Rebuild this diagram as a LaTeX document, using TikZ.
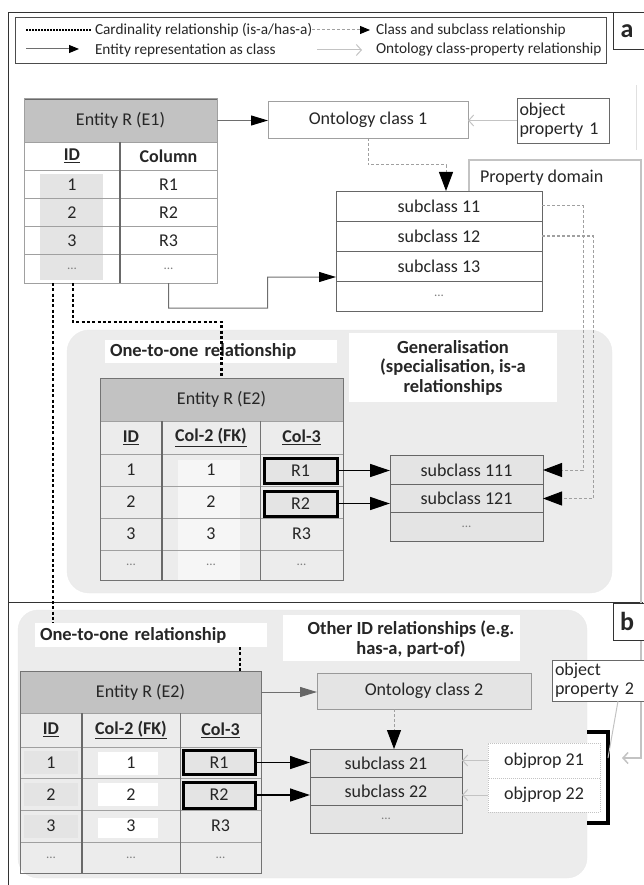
\documentclass[tikz,border=0pt]{standalone}
\usepackage{fontspec}
\setmainfont{Carlito}
\usetikzlibrary{arrows.meta}
\definecolor{hdr}{RGB}{194,194,194}
\definecolor{region}{RGB}{236,236,236}
\definecolor{cellg}{RGB}{228,228,228}
\definecolor{bord}{RGB}{160,160,160}
\definecolor{dbord}{RGB}{105,105,105}
\definecolor{lightln}{RGB}{195,195,195}
\definecolor{midln}{RGB}{110,110,110}
\definecolor{dashln}{RGB}{160,160,160}
\newcommand{\mydots}{{\color{black!50}\fontsize{13}{13}\selectfont...}}
\begin{document}
\begin{tikzpicture}[x=1pt,y=-1pt,
  every node/.style={font=\fontsize{18}{19}\selectfont, inner sep=0pt, outer sep=0pt, text=black!85},
  cell/.style n args={2}{draw=bord, line width=0.8pt, minimum width=#1, minimum height=#2},
  hdrcell/.style n args={2}{draw=dbord, line width=0.8pt, fill=hdr, minimum width=#1, minimum height=#2},
  subc/.style n args={2}{draw=black!60, line width=0.9pt, minimum width=#1, minimum height=#2},
  lbl/.style={fill=white, font=\fontsize{18.5}{19.5}\selectfont\bfseries},
  legfont/.style={font=\fontsize{15.3}{16}\selectfont},
  card/.style={line width=2.3pt, dash pattern=on 3pt off 2.3pt, black},
  subrel/.style={dashln, line width=1pt, dash pattern=on 3pt off 2pt, -{Triangle[length=19pt,width=14pt,color=black,fill=black]}},
  entrel/.style={midln, line width=1pt, -{Triangle[length=17pt,width=10pt,color=black]}},
  proprel/.style={lightln, line width=1pt, -{Straight Barb[length=5pt,width=11pt]}},
  strong/.style={black, line width=1.3pt, -{Triangle[length=20pt,width=13pt]}},
  thickbox/.style n args={2}{draw=black, line width=3pt, fill=cellg, minimum width=#1, minimum height=#2}
]
\useasboundingbox (0,0) rectangle (643,885);
% ---------- frames
\draw[line width=1pt, black!80] (8,885) -- (8,13) -- (613,13);
\draw[line width=1pt, black!80] (8,602) -- (643,602);
\draw[black!12] (636,85) -- (636,150);
% ---------- regions
\draw[fill=region, draw=black!8, rounded corners=22pt] (67,330) rectangle (612,593);
\draw[fill=region, draw=black!8, rounded corners=20pt] (18,610) rectangle (587,878);

% ---------- legend
\node[draw=black!70, line width=0.9pt, minimum width=591pt, minimum height=46pt] (legend) at (310.5,40) {};
\coordinate (la1) at (26,30); \coordinate (lb1) at (91,30);
\draw[black, line width=1.6pt, dash pattern=on 1.6pt off 1.4pt] (la1) -- (lb1);
\node[anchor=west, legfont] (lt1) at (95,30) {Cardinality relationship (is-a/has-a)};
\coordinate (la2) at (312,30); \coordinate (lb2) at (370,30);
\draw[subrel, -{Triangle[length=10pt,width=8pt,color=black]}] (la2) -- (lb2);
\node[anchor=west, legfont] (lt2) at (376,30) {Class and subclass relationship};
\coordinate (la3) at (26,49); \coordinate (lb3) at (79,49);
\draw[entrel, -{Triangle[length=10pt,width=8pt,color=black]}] (la3) -- (lb3);
\node[anchor=west, legfont] (lt3) at (95,50) {Entity representation as class};
\coordinate (la4) at (317,50); \coordinate (lb4) at (362,50);
\draw[proprel] (la4) -- (lb4);
\node[anchor=west, legfont] (lt4) at (376,50) {Ontology class-property relationship};

% ---------- E1 table
\fill[cellg] (40,174) rectangle (103,280);
\node[hdrcell={193pt}{43pt}] (E1h) at (120.5,120.5) {Entity R (E1)};
\node[cell={96pt}{28.2pt}] (E1i0) at (72,156.1) {\textbf{\underline{ID}}};
\node[cell={97pt}{28.2pt}] (E1c0) at (168.5,156.1) {\textbf{Column}};
\node[cell={96pt}{28.2pt}] (E1i1) at (72,184.3) {1};
\node[cell={97pt}{28.2pt}] (E1c1) at (168.5,184.3) {R1};
\node[cell={96pt}{28.2pt}] (E1i2) at (72,212.5) {2};
\node[cell={97pt}{28.2pt}] (E1c2) at (168.5,212.5) {R2};
\node[cell={96pt}{28.2pt}] (E1i3) at (72,240.7) {3};
\node[cell={97pt}{28.2pt}] (E1c3) at (168.5,240.7) {R3};
\node[cell={96pt}{28.2pt}] (E1i4) at (72,268.9) {\mydots};
\node[cell={97pt}{28.2pt}] (E1c4) at (168.5,268.9) {\mydots};
\draw[dbord, line width=1.3pt] (E1i0.north east) -- (E1i4.south east);
\draw[bord, line width=1pt] (E1h.north west) rectangle (E1c4.south east);

% ---------- ontology class 1, object property 1
\node[draw=bord, line width=0.9pt, fill=white, minimum width=200pt, minimum height=37pt] (oc1) at (368,119.5) {Ontology class 1};
\node[draw=dbord, line width=0.9pt, fill=white, minimum width=92pt, minimum height=45pt, text width=87pt, align=left] (op1) at (563,120.5) {object\\property 1};

% ---------- subclass box 1
\node[subc={206pt}{30pt}, fill=white] (s11) at (439,206) {subclass 11};
\node[subc={206pt}{30pt}, fill=white] (s12) at (439,236) {subclass 12};
\node[subc={206pt}{30pt}, fill=white] (s13) at (439,266) {subclass 13};
\node[subc={206pt}{30pt}, fill=white] (s1d) at (439,296) {\mydots};
\node[anchor=west] (pd) at (480,178) {Property domain};

% ---------- panel a labels
\node[lbl, minimum width=232pt, minimum height=23pt, text width=222pt, align=left] (o2o1) at (221,351.5) {One-to-one relationship};
\node[lbl, minimum width=208pt, minimum height=69pt, align=center] (gen) at (453,367.5) {Generalisation\\(specialisation, is-a\\relationships};

% ---------- E2 table (panel a)
\fill[white!55!region] (178,460) rectangle (240,580);
\node[hdrcell={243pt}{43pt}] (E2h) at (221.5,399.5) {Entity R (E2)};
\node[cell={62pt}{33pt}] (E2i0) at (131,437.5) {\textbf{\underline{ID}}};
\node[cell={98pt}{33pt}] (E2a0) at (211,437.5) {\textbf{\underline{Col-2 (FK)}}};
\node[cell={83pt}{33pt}] (E2b0) at (301.5,437.5) {\textbf{\underline{Col-3}}};
\node[cell={62pt}{32pt}] (E2i1) at (131,470) {1};
\node[cell={98pt}{32pt}] (E2a1) at (211,470) {1};
\node[cell={83pt}{32pt}] (E2b1) at (301.5,470) {};
\node[cell={62pt}{32pt}] (E2i2) at (131,502) {2};
\node[cell={98pt}{32pt}] (E2a2) at (211,502) {2};
\node[cell={83pt}{32pt}] (E2b2) at (301.5,502) {};
\node[cell={62pt}{32pt}] (E2i3) at (131,534) {3};
\node[cell={98pt}{32pt}] (E2a3) at (211,534) {3};
\node[cell={83pt}{32pt}] (E2b3) at (301.5,534) {R3};
\node[cell={62pt}{30pt}] (E2i4) at (131,565) {\mydots};
\node[cell={98pt}{30pt}] (E2a4) at (211,565) {\mydots};
\node[cell={83pt}{30pt}] (E2b4) at (301.5,565) {\mydots};
\draw[dbord, line width=1.3pt] (E2i0.north east) -- (E2i4.south east);
\draw[black!55, line width=1pt] (E2a0.north east) -- (E2a4.south east);
\draw[black!55, line width=1pt] (E2h.north west) rectangle (E2b4.south east);
\node[thickbox={73pt}{25pt}] (R1a) at (300.5,470.5) {R1};
\node[thickbox={73pt}{25pt}] (R2a) at (300.5,503.5) {R2};

% ---------- subclass 111 box
\node[subc={153pt}{28.5pt}, fill=cellg] (s111) at (466.5,470) {subclass 111};
\node[subc={153pt}{28.5pt}, fill=cellg] (s121) at (466.5,498.5) {subclass 121};
\node[subc={153pt}{28.5pt}, fill=cellg] (s1dd) at (466.5,527) {\mydots};

% ---------- panel b
\node[lbl, minimum width=232pt, minimum height=24pt, text width=222pt, align=left] (o2o2) at (151,635) {One-to-one relationship};
\node[fill=white, minimum width=237pt, minimum height=46pt] (otherbox) at (401.5,638) {};
\node[lbl, fill=none, align=center] (other) at (411,639) {Other ID relationships (e.g.\\has-a, part-of)};

\node[hdrcell={241pt}{42pt}] (E3h) at (140.5,692) {Entity R (E2)};
\node[cell={62pt}{34pt}] (E3i0) at (51,730) {\textbf{\underline{ID}}};
\node[cell={98pt}{34pt}] (E3a0) at (131,730) {\textbf{\underline{Col-2 (FK)}}};
\node[cell={81pt}{34pt}] (E3b0) at (220.5,730) {\textbf{\underline{Col-3}}};
\fill[white] (98,752) rectangle (158,775);
\fill[white] (98,783) rectangle (158,806);
\fill[white] (98,818) rectangle (158,838);
\fill[cellg] (24,751) rectangle (78,774);
\fill[cellg] (24,783) rectangle (78,806);
\fill[cellg] (24,815) rectangle (78,838);
\node[cell={62pt}{31.5pt}] (E3i1) at (51,762.75) {1};
\node[cell={98pt}{31.5pt}] (E3a1) at (131,762.75) {1};
\node[cell={81pt}{31.5pt}] (E3b1) at (220.5,762.75) {};
\node[cell={62pt}{31.5pt}] (E3i2) at (51,794.25) {2};
\node[cell={98pt}{31.5pt}] (E3a2) at (131,794.25) {2};
\node[cell={81pt}{31.5pt}] (E3b2) at (220.5,794.25) {};
\node[cell={62pt}{32pt}] (E3i3) at (51,826) {3};
\node[cell={98pt}{32pt}] (E3a3) at (131,826) {\raisebox{-5pt}{3}};
\node[cell={81pt}{32pt}] (E3b3) at (220.5,826) {R3};
\node[cell={62pt}{31pt}] (E3i4) at (51,857.5) {\mydots};
\node[cell={98pt}{31pt}] (E3a4) at (131,857.5) {\mydots};
\node[cell={81pt}{31pt}] (E3b4) at (220.5,857.5) {\mydots};
\draw[dbord, line width=1.3pt] (E3i0.north east) -- (E3i4.south east);
\draw[black!55, line width=1pt] (E3a0.north east) -- (E3a4.south east);
\draw[black!55, line width=1pt] (E3h.north west) rectangle (E3b4.south east);
\node[thickbox={72pt}{24pt}] (R1b) at (219,762.5) {R1};
\node[thickbox={72pt}{26pt}] (R2b) at (219,795) {R2};

\node[draw=black!40, line width=0.9pt, fill=cellg, minimum width=214pt, minimum height=36pt] (oc2) at (424,691) {Ontology class 2};
\node[subc={152pt}{28pt}, fill=cellg] (s21) at (386,763) {subclass 21};
\node[subc={152pt}{28pt}, fill=cellg] (s22) at (386,791) {subclass 22};
\node[subc={152pt}{28pt}, fill=cellg] (s2d) at (386,819) {\mydots};

\node[draw=lightln, densely dotted, line width=1pt, fill=white, minimum width=112pt, minimum height=35pt] (op21) at (544,760.5) {objprop 21};
\node[draw=lightln, densely dotted, line width=1pt, fill=white, minimum width=112pt, minimum height=34pt] (op22) at (544,795) {objprop 22};

\coordinate (brk) at (608,758);
\draw[black, line width=3.5pt] (587,732) -- (608,732) -- (608,823) -- (587,823);

% ---------- connectors panel a
\draw[entrel] (E1h.east) -- (E1h.east -| oc1.west);
\draw[proprel] (op1.west) -- (op1.west -| oc1.east);
\draw[subrel] (oc1.south) -- ++(0,27) -| ([xshift=7pt]s11.north);
\draw[entrel] (E1c4.south) -- ++(0,25) -- ++(99,0) -- ++(0,-31) -- ([yshift=-11pt]s13.west);
\draw[subrel] (s11.east) -- ++(41,0) |- (s111.east);
\draw[subrel] (s12.east) -- ++(51,0) |- (s121.east);
\draw[strong] (R1a.east) -- (R1a.east -| s111.west);
\draw[strong] (R2a.east) -- (R2a.east -| s121.west);
\draw[card] ([xshift=1pt]E1i4.south) -- ++(0,39) -| (E2h.north);
\draw[card] ([xshift=-19pt]E1i4.south) -- ([xshift=-19pt]E1i4.south |- o2o2.north);

% property domain
\draw[proprel, line width=1.5pt] ([xshift=133pt]s11.north west) -- ++(0,-31) -- ++(172,0) -- ++(0,598) -- ([xshift=14pt]brk);

% ---------- connectors panel b
\draw[card] ([xshift=89pt]o2o2.south) -- ([xshift=89pt]o2o2.south |- E3h.north);
\draw[entrel, -{Triangle[length=17pt,width=10pt,color=black!60]}] (E3h.east) -- (E3h.east -| oc2.west);
\draw[subrel] ([xshift=-30pt]oc2.south) -- ([xshift=-30pt]oc2.south |- s21.north);
\draw[strong] (R1b.east) -- (R1b.east -| s21.west);
\draw[strong] (R2b.east) -- (R2b.east -| s22.west);
\draw[proprel] (op21.west) -- (op21.west -| s21.east);
\draw[proprel] (op22.west) -- (op22.west -| s22.east);

% object property 2
\node[draw=dbord, line width=0.9pt, fill=white, minimum width=95pt, minimum height=41pt, text width=89pt, align=left] (op2) at (599.5,680.5) {object\\property 2};
\draw[lightln, line width=1pt] ([xshift=18.5pt]op2.south) -- (brk);

% ---------- panel letters
\node[draw=black!80, line width=1pt, fill=white, minimum width=42pt, minimum height=37pt] (pabox) at (634,31.5) {};
\node[font=\fontsize{26}{26}\selectfont\bfseries] (pa) at (627,31) {a};
\node[draw=black!80, line width=1pt, fill=white, minimum width=42pt, minimum height=37pt] (pbbox) at (634,621.5) {};
\node[font=\fontsize{26}{26}\selectfont\bfseries] (pb) at (627,621) {b};
\end{tikzpicture}
\end{document}
